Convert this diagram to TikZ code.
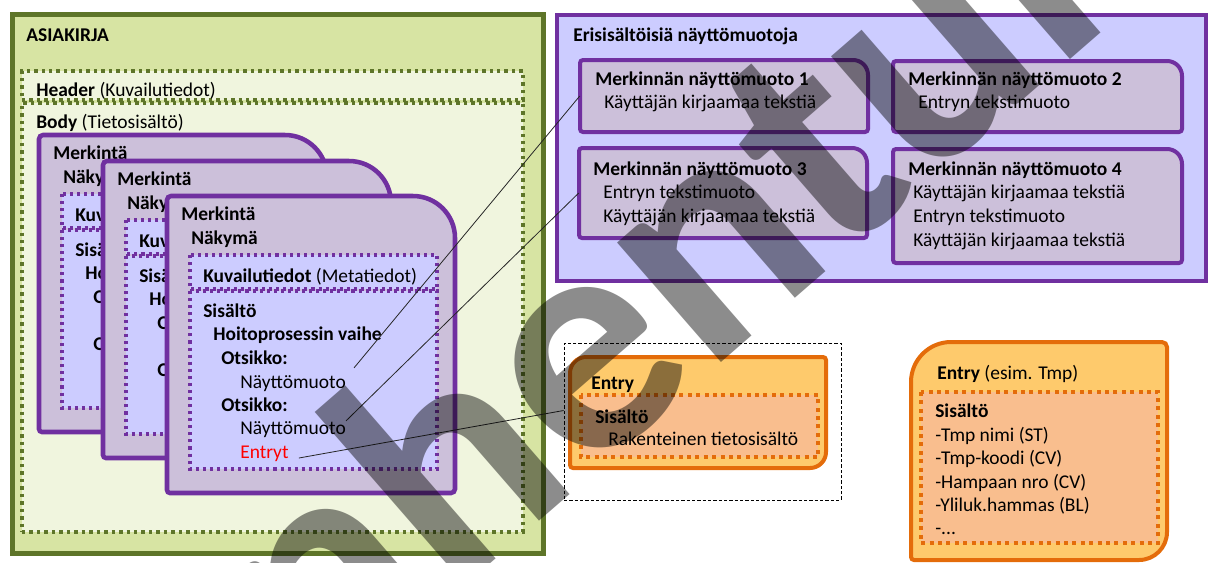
\documentclass[tikz,border=0pt]{standalone}
\usepackage{fontspec}
\setmainfont{Carlito}
\usetikzlibrary{fit}

\definecolor{docgreen}{RGB}{94,117,41}
\definecolor{docfill}{RGB}{215,228,163}
\definecolor{bodyfill}{RGB}{240,245,222}
\definecolor{mpurple}{RGB}{112,48,160}
\definecolor{cardfill}{RGB}{204,192,218}
\definecolor{lavender}{RGB}{204,204,255}
\definecolor{entorange}{RGB}{228,108,10}
\definecolor{entfill}{RGB}{254,202,108}
\definecolor{entinner}{RGB}{249,190,142}

\tikzset{
  lbl/.style={anchor=base west, inner sep=0pt, font=\fontsize{14.6}{17.5}\selectfont},
  link/.style={draw=black!85, line width=0.6pt},
  greenpanel/.style={draw=docgreen, fill=docfill, line width=3.75pt, inner sep=0pt},
  greendots/.style={draw=docgreen, fill=bodyfill, line width=2.6pt, dash pattern=on 2.6pt off 3pt, inner sep=0pt},
  purplepanel/.style={draw=mpurple, fill=lavender, line width=3pt, inner sep=0pt},
  cardbox/.style={draw=mpurple, fill=cardfill, line width=3.4pt},
  formbox/.style={draw=mpurple, fill=cardfill, line width=3pt},
  purpledots/.style={draw=mpurple, fill=lavender, line width=2.3pt, dash pattern=on 2.3pt off 3pt},
  entbox/.style={draw=entorange, fill=entfill, line width=3pt},
  orangedots/.style={draw=entorange, fill=entinner, line width=3pt, dash pattern=on 3pt off 3.3pt},
  selbox/.style={draw=black, line width=0.6pt, dash pattern=on 2.5pt off 1.5pt, inner sep=0pt},
  stamp/.style={rotate=41, inner sep=0pt, text=black, text opacity=0.45, font=\fontsize{245}{245}\selectfont\bfseries}
}

% box with its own radius at top left, top right and bottom right corner
% #1 style, #2 name, #3 x, #4 y, #5 width, #6 height, #7 tl, #8 tr, #9 br
\newcommand{\cornerbox}[9]{%
  \draw[#1] ({#3},{#4+#7}) arc[start angle=180,end angle=270,radius=#7]
    -- ({#3+#5-#8},{#4}) arc[start angle=270,end angle=360,radius=#8]
    -- ({#3+#5},{#4+#6-#9}) arc[start angle=0,end angle=90,radius=#9]
    -- ({#3+3},{#4+#6}) arc[start angle=90,end angle=180,radius=3]
    -- cycle;
  \path ({#3},{#4}) coordinate (#2-nw) ({#3+#5},{#4+#6}) coordinate (#2-se);
  \node[fit=(#2-nw)(#2-se), inner sep=0pt] (#2) {};
}

% one Merkintä card, #1 x, #2 y, #3 name
\newcommand{\merkinta}[3]{%
  \cornerbox{cardbox}{#3}{#1}{#2}{288}{297}{4}{42}{4}
  \draw[purpledots] ({#1+23},{#2+59}) rectangle ({#1+270},{#2+93});
  \draw[purpledots] ({#1+23},{#2+95}) rectangle ({#1+270},{#2+273});
  \node[lbl] (#3-mk) at ({#1+14},{#2+24}) {\textbf{Merkintä}};
  \node[lbl] (#3-nk) at ({#1+24},{#2+48}) {\textbf{Näkymä}};
  \node[lbl] (#3-kuv) at ({#1+36},{#2+86}) {\textbf{Kuvailutiedot} (Metatiedot)};
  \node[lbl] (#3-sis) at ({#1+36},{#2+121}) {\textbf{Sisältö}};
  \node[lbl] (#3-hoito) at ({#1+46},{#2+144}) {\textbf{Hoitoprosessin vaihe}};
  \node[lbl] (#3-ots1) at ({#1+54},{#2+168}) {\textbf{Otsikko:}};
  \node[lbl] (#3-nay1) at ({#1+73},{#2+192}) {Näyttömuoto};
  \node[lbl] (#3-ots2) at ({#1+54},{#2+215}) {\textbf{Otsikko:}};
  \node[lbl] (#3-nay2) at ({#1+73},{#2+238}) {Näyttömuoto};
  \node[lbl, text=red] (#3-ent) at ({#1+73},{#2+262}) {Entryt};
}

\begin{document}
\begin{tikzpicture}[x=0.75pt,y=0.75pt,yscale=-1,xscale=1]
  \clip (0,0) rectangle (1209,562);

  % ASIAKIRJA
  \node[greenpanel, fit={(12,14) (543,553)}] (doc) {};
  \node[lbl] (doctitle) at (26,41) {\textbf{ASIAKIRJA}};
  \node[greendots, fit={(22,71) (523,100)}] (header) {};
  \node[lbl] (headertxt) at (36,96) {\textbf{Header} (Kuvailutiedot)};
  \node[greendots, fit={(22,103) (523,532)}] (body) {};
  \node[lbl] (bodytxt) at (36,128) {\textbf{Body} (Tietosisältö)};

  \merkinta{39}{135}{c1}
  \merkinta{103}{161}{c2}
  \merkinta{167}{196}{c3}

  % näyttömuodot
  \node[purplepanel, fit={(557,15) (1206,281)}] (forms) {};
  \node[lbl] (formstitle) at (573,41) {\textbf{Erisisältöisiä näyttömuotoja}};

  \cornerbox{formbox}{f1}{580}{60}{288}{72}{3}{15}{3}
  \node[lbl] (f1-t) at (595,85) {\textbf{Merkinnän näyttömuoto 1}};
  \node[lbl] (f1-l1) at (604,108) {Käyttäjän kirjaamaa tekstiä};

  \cornerbox{formbox}{f2}{893}{61}{289}{71}{3}{15}{3}
  \node[lbl] (f2-t) at (908,85) {\textbf{Merkinnän näyttömuoto 2}};
  \node[lbl] (f2-l1) at (918,108) {Entryn tekstimuoto};

  \cornerbox{formbox}{f3}{579}{148}{288}{90}{3}{15}{3}
  \node[lbl] (f3-t) at (593,175) {\textbf{Merkinnän näyttömuoto 3}};
  \node[lbl] (f3-l1) at (603,198) {Entryn tekstimuoto};
  \node[lbl] (f3-l2) at (603,222) {Käyttäjän kirjaamaa tekstiä};

  \cornerbox{formbox}{f4}{893}{149}{289}{114}{3}{15}{3}
  \node[lbl] (f4-t) at (908,175) {\textbf{Merkinnän näyttömuoto 4}};
  \foreach \txt [count=\i] in {Käyttäjän kirjaamaa tekstiä, Entryn tekstimuoto, Käyttäjän kirjaamaa tekstiä}
    \node[lbl] (f4-l\i) at (913,{174+24*\i}) {\txt};

  % Entry
  \node[selbox, fit={(564,343) (841,500)}] (sel) {};
  \cornerbox{entbox}{entA}{570}{357}{256}{111}{16}{3}{16}
  \draw[orangedots] (581,395) rectangle (818,457);
  \node[lbl] (entA-t) at (591,389) {\textbf{Entry}};
  \node[lbl] (entA-sis) at (595,423) {\textbf{Sisältö}};
  \node[lbl] (entA-l1) at (608,445) {Rakenteinen tietosisältö};

  \cornerbox{entbox}{entB}{911}{342}{256}{218}{40}{5}{28}
  \draw[orangedots] (921,392) rectangle (1158,543);
  \node[lbl] (entB-t) at (937,379) {\textbf{Entry} (esim. Tmp)};
  \node[lbl] (entB-sis) at (935,417) {\textbf{Sisältö}};
  \node[lbl] (entB-l1) at (935,441) {-Tmp nimi (ST)};
  \node[lbl] (entB-l2) at (935,464) {-Tmp-koodi (CV)};
  \node[lbl] (entB-l3) at (935,488) {-Hampaan nro (CV)};
  \node[lbl] (entB-l4) at (935,511) {-Yliluk.hammas (BL)};
  \node[lbl] (entB-l5) at (935,534) {-...};

  % viivat
  \draw[link] ([shift={(8,-7)}]c3-nay1.north east) -- (f1.west);
  \draw[link] (c3-nay2.north east) -- (f3.west);
  \draw[link] ([shift={(10,0)}]c3-ent.base east) -- ([shift={(0,-11)}]sel.west);

  \node[stamp] (stamp) at (660,266) {Vanhentunut};
\end{tikzpicture}
\end{document}
